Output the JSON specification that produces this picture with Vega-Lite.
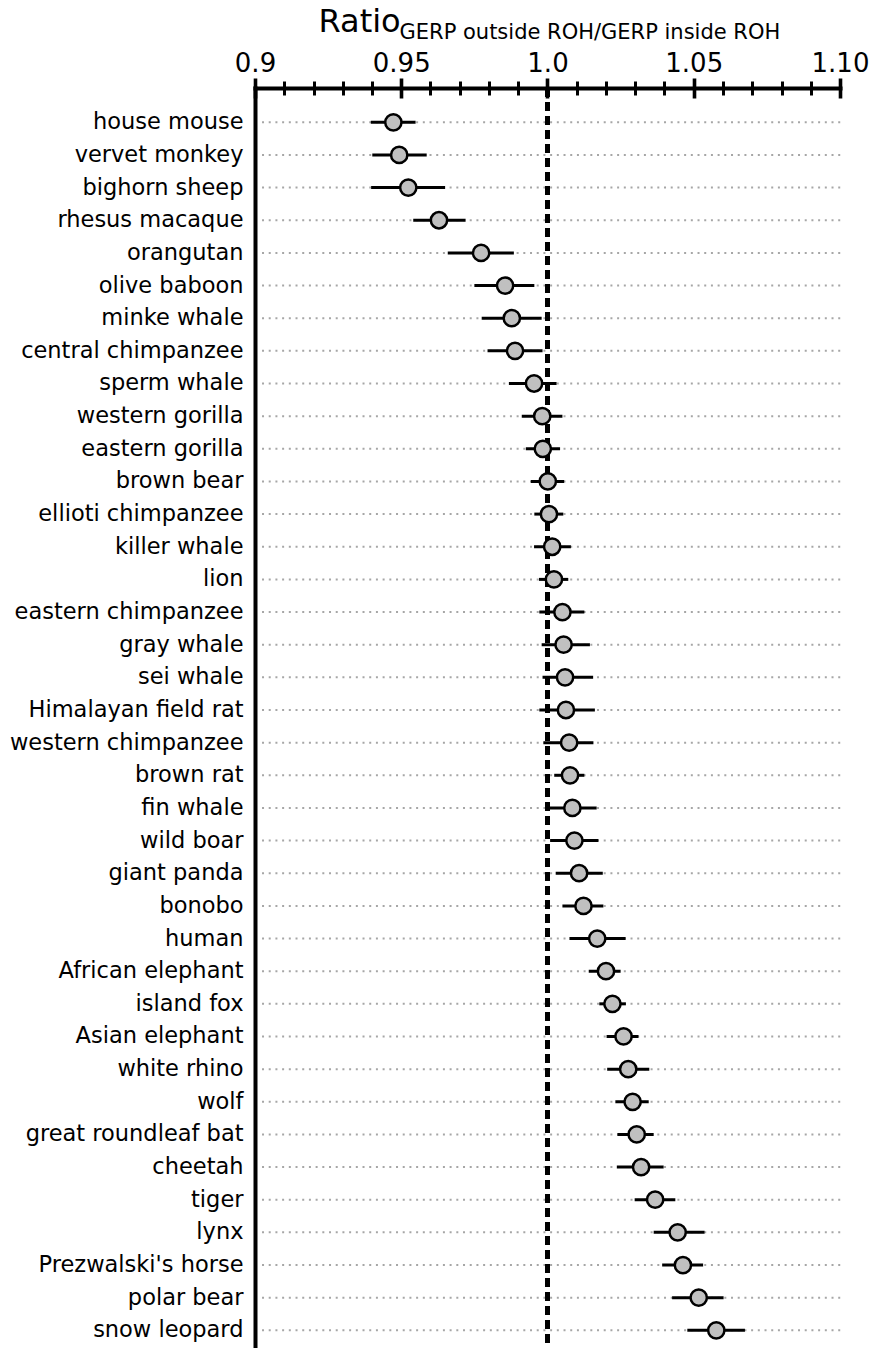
{
  "$schema": "https://vega.github.io/schema/vega-lite/v6.json",
  "autosize": {"type": "none"},
  "width": 585,
  "height": 1260,
  "padding": {"left": 255, "top": 88, "right": 38, "bottom": 0},
  "background": "white",
  "config": {
    "font": "DejaVu Sans",
    "view": {"stroke": null},
    "axis": {"labelFont": "DejaVu Sans", "titleFont": "DejaVu Sans", "labelColor": "#000", "titleColor": "#000", "grid": false}
  },
  "data": {
    "values": [
      {"species": "house mouse", "ratio": 0.9473, "lo": 0.9396, "hi": 0.9549},
      {"species": "vervet monkey", "ratio": 0.9493, "lo": 0.9401, "hi": 0.9587},
      {"species": "bighorn sheep", "ratio": 0.9524, "lo": 0.9397, "hi": 0.965},
      {"species": "rhesus macaque", "ratio": 0.9629, "lo": 0.9541, "hi": 0.972},
      {"species": "orangutan", "ratio": 0.9773, "lo": 0.9659, "hi": 0.9885},
      {"species": "olive baboon", "ratio": 0.9855, "lo": 0.975, "hi": 0.9955},
      {"species": "minke whale", "ratio": 0.9878, "lo": 0.9775, "hi": 0.998},
      {"species": "central chimpanzee", "ratio": 0.9889, "lo": 0.9795, "hi": 0.9983},
      {"species": "sperm whale", "ratio": 0.9954, "lo": 0.9868, "hi": 1.0031},
      {"species": "western gorilla", "ratio": 0.9982, "lo": 0.9912, "hi": 1.0051},
      {"species": "eastern gorilla", "ratio": 0.9984, "lo": 0.9926, "hi": 1.0043},
      {"species": "brown bear", "ratio": 1.0001, "lo": 0.9943, "hi": 1.0057},
      {"species": "ellioti chimpanzee", "ratio": 1.0005, "lo": 0.9955, "hi": 1.0054},
      {"species": "killer whale", "ratio": 1.0016, "lo": 0.9954, "hi": 1.008},
      {"species": "lion", "ratio": 1.0022, "lo": 0.9971, "hi": 1.0071},
      {"species": "eastern chimpanzee", "ratio": 1.0051, "lo": 0.9972, "hi": 1.0126},
      {"species": "gray whale", "ratio": 1.0055, "lo": 0.998, "hi": 1.0145},
      {"species": "sei whale", "ratio": 1.006, "lo": 0.9983, "hi": 1.0156},
      {"species": "Himalayan field rat", "ratio": 1.0063, "lo": 0.9972, "hi": 1.0162},
      {"species": "western chimpanzee", "ratio": 1.0074, "lo": 0.9986, "hi": 1.0157},
      {"species": "brown rat", "ratio": 1.0077, "lo": 1.0023, "hi": 1.0126},
      {"species": "fin whale", "ratio": 1.0085, "lo": 1.0001, "hi": 1.0168},
      {"species": "wild boar", "ratio": 1.0092, "lo": 1.0009, "hi": 1.0174},
      {"species": "giant panda", "ratio": 1.0108, "lo": 1.0028, "hi": 1.0189},
      {"species": "bonobo", "ratio": 1.0123, "lo": 1.0051, "hi": 1.0191},
      {"species": "human", "ratio": 1.017, "lo": 1.0075, "hi": 1.0267},
      {"species": "African elephant", "ratio": 1.02, "lo": 1.0141, "hi": 1.025},
      {"species": "island fox", "ratio": 1.0222, "lo": 1.0177, "hi": 1.0268},
      {"species": "Asian elephant", "ratio": 1.026, "lo": 1.0202, "hi": 1.0311},
      {"species": "white rhino", "ratio": 1.0276, "lo": 1.0204, "hi": 1.0348},
      {"species": "wolf", "ratio": 1.0291, "lo": 1.0232, "hi": 1.0346},
      {"species": "great roundleaf bat", "ratio": 1.0305, "lo": 1.0239, "hi": 1.0363},
      {"species": "cheetah", "ratio": 1.032, "lo": 1.0237, "hi": 1.0397},
      {"species": "tiger", "ratio": 1.0368, "lo": 1.0298, "hi": 1.0437},
      {"species": "lynx", "ratio": 1.0445, "lo": 1.0363, "hi": 1.0537},
      {"species": "Prezwalski's horse", "ratio": 1.0463, "lo": 1.0392, "hi": 1.0532},
      {"species": "polar bear", "ratio": 1.0517, "lo": 1.0426, "hi": 1.0602},
      {"species": "snow leopard", "ratio": 1.0577, "lo": 1.0478, "hi": 1.0675}
    ]
  },
  "resolve": {"axis": {"x": "independent"}},
  "layer": [
    {
      "mark": {"type": "rule", "color": "#a6a6a6", "strokeWidth": 2, "strokeDash": [2, 4.7]},
      "encoding": {
        "y": {
          "field": "species", "type": "nominal", "sort": null,
          "scale": {"paddingInner": 0, "paddingOuter": 0.296, "align": 0.93},
          "axis": {"orient": "left", "title": null, "ticks": false, "domain": true, "domainColor": "#000", "domainWidth": 4, "domainCap": "square", "labelFontSize": 22.5, "labelPadding": 12, "labelLimit": 400}
        },
        "x": {
          "datum": 0.9024, "type": "quantitative",
          "scale": {"domain": [0.9, 1.1], "nice": false, "zero": false},
          "axis": {"orient": "top", "values": [0.91, 0.92, 0.93, 0.94, 0.96, 0.97, 0.98, 0.99, 1.01, 1.02, 1.03, 1.04, 1.06, 1.07, 1.08, 1.09], "labels": false, "domain": false, "ticks": true, "tickSize": -7, "tickWidth": 3, "tickColor": "#000", "title": null}
        },
        "x2": {"datum": 1.1005}
      }
    },
    {
      "mark": {"type": "rule", "color": "#000", "strokeWidth": 3.6, "strokeDash": [9, 5]},
      "encoding": {
        "x": {
          "datum": 1.0, "type": "quantitative",
          "scale": {"domain": [0.9, 1.1], "nice": false, "zero": false},
          "axis": {"orient": "top", "values": [0.9, 0.95, 1.0, 1.05, 1.1], "labels": false, "domain": false, "ticks": true, "tickSize": -10, "tickWidth": 3.6, "tickColor": "#000",
            "title": "GERP outside ROH/GERP inside ROH", "titleFontSize": 21, "titleFontWeight": "normal", "titleX": 144, "titleY": -49.7, "titleAlign": "left", "titleBaseline": "alphabetic", "titleAngle": 0}
        }
      }
    },
    {
      "mark": {"type": "rule", "color": "#000", "strokeWidth": 3},
      "encoding": {
        "y": {
          "field": "species", "type": "nominal", "sort": null,
          "scale": {"paddingInner": 0, "paddingOuter": 0.296, "align": 0.93},
          "axis": {"orient": "left", "title": null, "ticks": false, "domain": true, "domainColor": "#000", "domainWidth": 4, "domainCap": "square", "labelFontSize": 22.5, "labelPadding": 12, "labelLimit": 400}
        },
        "x": {
          "field": "lo", "type": "quantitative",
          "scale": {"domain": [0.9, 1.1], "nice": false, "zero": false},
          "axis": {"orient": "top", "values": [0.91, 0.92, 0.93, 0.94, 0.96, 0.97, 0.98, 0.99, 1.01, 1.02, 1.03, 1.04, 1.06, 1.07, 1.08, 1.09], "labels": false, "domain": false, "ticks": true, "tickSize": 7, "tickWidth": 3, "tickColor": "#000", "title": null}
        },
        "x2": {"field": "hi"}
      }
    },
    {
      "mark": {"type": "point", "shape": "circle", "filled": true, "fill": "#c0c0c0", "stroke": "#000", "strokeWidth": 2.5, "size": 265, "opacity": 1},
      "encoding": {
        "y": {
          "field": "species", "type": "nominal", "sort": null,
          "scale": {"paddingInner": 0, "paddingOuter": 0.296, "align": 0.93},
          "axis": {"orient": "left", "title": null, "ticks": false, "domain": true, "domainColor": "#000", "domainWidth": 4, "domainCap": "square", "labelFontSize": 22.5, "labelPadding": 12, "labelLimit": 400}
        },
        "x": {
          "field": "ratio", "type": "quantitative",
          "scale": {"domain": [0.9, 1.1], "nice": false, "zero": false},
          "axis": {"orient": "top", "values": [0.9, 0.95, 1.0, 1.05, 1.1],
            "labelExpr": "datum.value < 0.92 ? '0.9' : datum.value > 1.09 ? '1.10' : datum.value == 1 ? '1.0' : format(datum.value, '.2f')",
            "labelFontSize": 26, "labelBaseline": "alphabetic", "labelPadding": 7, "labelFlush": false, "labelOverlap": false,
            "domain": true, "domainColor": "#000", "domainWidth": 4, "domainCap": "square",
            "ticks": true, "tickSize": 10, "tickWidth": 3.6, "tickColor": "#000",
            "title": "Ratio", "titleFontSize": 32, "titleFontWeight": "normal", "titleX": 63, "titleY": -56.3, "titleAlign": "left", "titleBaseline": "alphabetic", "titleAngle": 0}
        }
      }
    }
  ]
}
